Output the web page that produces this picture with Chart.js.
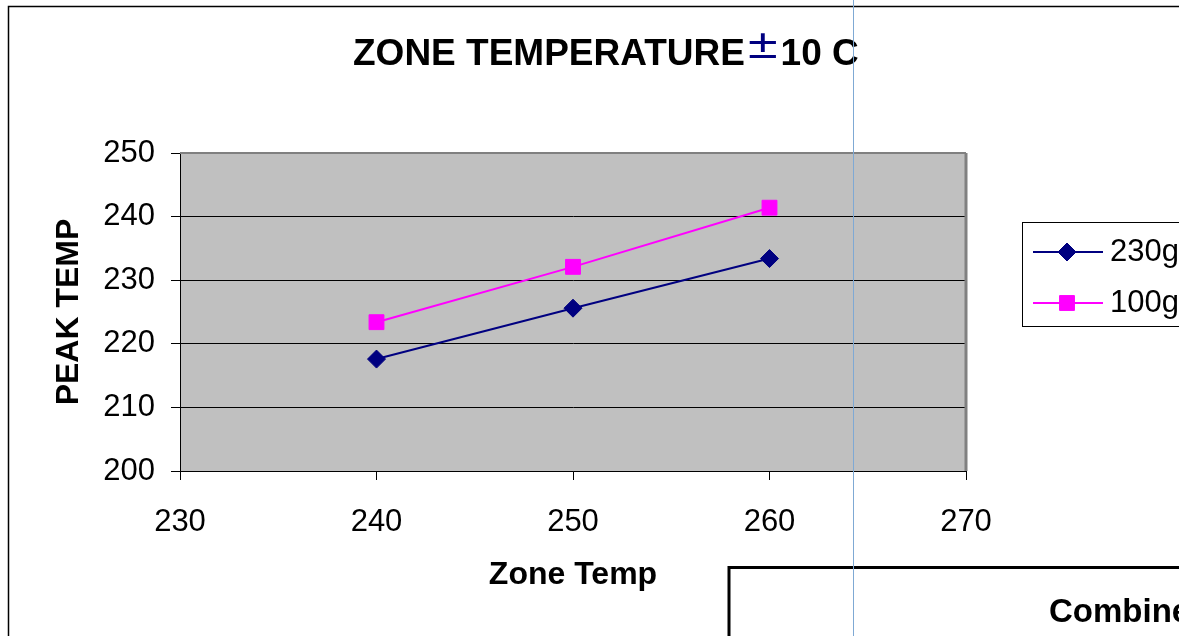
<!DOCTYPE html>
<html>
<head>
<meta charset="utf-8">
<title>Zone temperature</title>
<script src="https://cdn.jsdelivr.net/npm/chart.js@4.4.0/dist/chart.umd.min.js"></script>
<style>
  html, body { margin: 0; padding: 0; background: #fff; overflow: hidden; }
  #wrap { width: 1179px; height: 636px; }
</style>
</head>
<body>
<div id="wrap"><canvas id="line-chart" width="1179" height="636"></canvas></div>
<script>
// zone temp (x) vs peak temp (y)
var zoneTemps = [240, 250, 260];
var peak230 = [217.6, 225.6, 233.4];
var peak100 = [223.4, 232.1, 241.4];
var seriesNames = ['230g', '100g'];
var seriesColors = ['#000080', '#ff00ff'];
var seriesMarkers = ['rectRot', 'rect'];
var xRange = [230, 270];
var yRange = [200, 250];
var tickStep = 10;

var FONT = "'Liberation Sans', Arial, Helvetica, sans-serif";
Chart.defaults.font.family = FONT;
Chart.defaults.color = '#000';

function toPoints(xs, ys) {
  var pts = [];
  for (var i = 0; i < xs.length; i++) pts.push({ x: xs[i], y: ys[i] });
  return pts;
}

// white page, outer frame and grey plot background
var backdrop = {
  id: 'backdrop',
  beforeDraw: function(chart) {
    var ctx = chart.ctx, a = chart.chartArea;
    ctx.save();
    ctx.fillStyle = '#fff';
    ctx.fillRect(0, 0, chart.width, chart.height);
    ctx.strokeStyle = '#000';
    ctx.lineWidth = 1.5;
    ctx.beginPath();
    ctx.moveTo(chart.width, 6.5);
    ctx.lineTo(8.5, 6.5);
    ctx.lineTo(8.5, chart.height);
    ctx.stroke();
    ctx.fillStyle = '#c0c0c0';
    ctx.fillRect(a.left, a.top, a.right - a.left, a.bottom - a.top);
    ctx.restore();
  }
};

// grey top and right edges of the plot
var plotEdges = {
  id: 'plotEdges',
  beforeDatasetsDraw: function(chart) {
    var ctx = chart.ctx, a = chart.chartArea;
    ctx.save();
    ctx.strokeStyle = '#808080';
    ctx.lineWidth = 2;
    ctx.beginPath();
    ctx.moveTo(a.left, a.top);
    ctx.lineTo(a.right, a.top);
    ctx.stroke();
    ctx.lineWidth = 3;
    ctx.beginPath();
    ctx.moveTo(a.right, a.top);
    ctx.lineTo(a.right, a.bottom);
    ctx.stroke();
    ctx.restore();
  }
};

// title, boxed legend, the next chart's frame and the page divider
var extras = {
  id: 'extras',
  afterDraw: function(chart) {
    var ctx = chart.ctx;
    ctx.save();

    // title in three pieces, the plus-minus sign is navy and a bit wider
    var p1 = 'ZONE TEMPERATURE', p2 = '\u00b1', p3 = '10 C';
    var bold = 'bold 37px ' + FONT, sign = '40px ' + FONT;
    var x = 353;
    ctx.textBaseline = 'alphabetic';
    ctx.textAlign = 'left';
    ctx.fillStyle = '#000';
    ctx.font = bold;
    ctx.fillText(p1, x, 65);
    x += ctx.measureText(p1).width + 3;
    ctx.fillStyle = '#000080';
    ctx.font = sign;
    var sw = ctx.measureText(p2).width;
    ctx.save();
    ctx.translate(x, 58);
    ctx.scale(1.35, 1);
    ctx.fillText(p2, 0, 0);
    ctx.restore();
    x += sw * 1.35 + 3;
    ctx.fillStyle = '#000';
    ctx.font = bold;
    ctx.fillText(p3, x, 65);

    // legend
    ctx.strokeStyle = '#000';
    ctx.lineWidth = 1;
    ctx.fillStyle = '#fff';
    ctx.fillRect(1022.5, 222.5, 200, 104);
    ctx.strokeRect(1022.5, 222.5, 200, 104);
    var rows = [252, 303];
    chart.data.datasets.forEach(function(ds, i) {
      var y = rows[i];
      ctx.strokeStyle = ds.borderColor;
      ctx.lineWidth = 2;
      ctx.beginPath();
      ctx.moveTo(1033, y);
      ctx.lineTo(1103, y);
      ctx.stroke();
      ctx.fillStyle = ds.backgroundColor;
      ctx.strokeStyle = ds.borderColor;
      ctx.lineWidth = 1;
      Chart.helpers.drawPoint(ctx, { pointStyle: ds.pointStyle, radius: ds.pointRadius, borderWidth: 1, rotation: 0 }, 1067, y);
      ctx.fillStyle = '#000';
      ctx.font = '31px ' + FONT;
      ctx.textBaseline = 'middle';
      ctx.fillText(ds.label, 1110, y);
    });

    // frame of the chart below
    ctx.strokeStyle = '#000';
    ctx.lineWidth = 3;
    ctx.beginPath();
    ctx.moveTo(729, chart.height + 5);
    ctx.lineTo(729, 567.5);
    ctx.lineTo(chart.width + 5, 567.5);
    ctx.stroke();
    ctx.fillStyle = '#000';
    ctx.font = 'bold 33px ' + FONT;
    ctx.textBaseline = 'alphabetic';
    ctx.fillText('Combined', 1049, 622);

    // divider
    ctx.strokeStyle = '#7fa9d4';
    ctx.lineWidth = 1;
    ctx.beginPath();
    ctx.moveTo(853.5, 0);
    ctx.lineTo(853.5, chart.height);
    ctx.stroke();
    ctx.restore();
  }
};

var lineChart = new Chart(document.getElementById('line-chart'), {
  type: 'line',
  data: {
    datasets: [
      {
        label: seriesNames[0],
        data: toPoints(zoneTemps, peak230),
        borderColor: seriesColors[0],
        backgroundColor: seriesColors[0],
        borderWidth: 2,
        pointStyle: seriesMarkers[0],
        pointRadius: 9,
        pointBorderWidth: 1,
        fill: false
      },
      {
        label: seriesNames[1],
        data: toPoints(zoneTemps, peak100),
        borderColor: seriesColors[1],
        backgroundColor: seriesColors[1],
        borderWidth: 2,
        pointStyle: seriesMarkers[1],
        pointRadius: 10.5,
        pointBorderWidth: 1,
        fill: false
      }
    ]
  },
  options: {
    responsive: false,
    animation: false,
    events: [],
    layout: { padding: { left: 0, top: 153, right: 213, bottom: 0 } },
    plugins: {
      legend: { display: false },
      title: { display: false },
      tooltip: { enabled: false }
    },
    elements: { line: { tension: 0 } },
    scales: {
      x: {
        type: 'linear',
        min: xRange[0],
        max: xRange[1],
        ticks: { stepSize: tickStep, font: { size: 31 }, color: '#000', padding: 24, maxRotation: 0 },
        grid: { drawOnChartArea: false, drawTicks: true, tickLength: 9, color: '#000' },
        border: { display: true, color: '#000', width: 1 },
        title: { display: true, text: 'Zone Temp', color: '#000', font: { size: 32, weight: 'bold' }, padding: { top: 0, bottom: 42 } },
        afterFit: function(scale) { scale.height = 165; }
      },
      y: {
        type: 'linear',
        min: yRange[0],
        max: yRange[1],
        ticks: { stepSize: tickStep, font: { size: 31 }, color: '#000', padding: 16 },
        grid: { drawOnChartArea: true, drawTicks: true, tickLength: 9, color: '#000' },
        border: { display: true, color: '#000', width: 1 },
        title: { display: true, text: 'PEAK TEMP', color: '#000', font: { size: 32, weight: 'bold' }, padding: { top: 50, bottom: 0 } },
        afterFit: function(scale) { scale.width = 180; }
      }
    }
  },
  plugins: [backdrop, plotEdges, extras]
});
</script>
</body>
</html>
